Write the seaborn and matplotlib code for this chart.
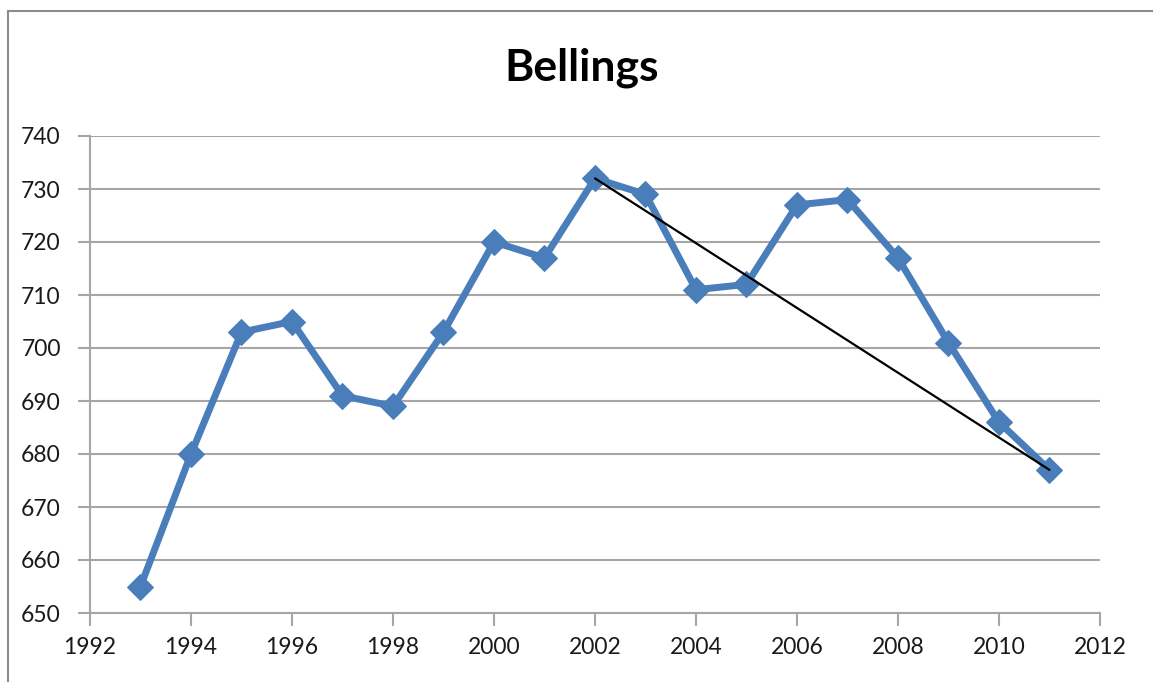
import matplotlib
matplotlib.use("Agg")
import matplotlib.pyplot as plt
import seaborn as sns
from matplotlib.patches import Rectangle

# data
years = [1993, 1994, 1995, 1996, 1997, 1998, 1999, 2000, 2001, 2002,
         2003, 2004, 2005, 2006, 2007, 2008, 2009, 2010, 2011]
values = [655, 680, 703, 705, 691, 689, 703, 720, 717, 732,
          729, 711, 712, 727, 728, 717, 701, 686, 677]
trend_years = [2002, 2011]
trend_values = [732, 677]
x_ticks = list(range(1992, 2013, 2))
y_ticks = list(range(650, 741, 10))

sns.set_style("white")
plt.rcParams['font.family'] = ['Lato', 'DejaVu Sans']

fig = plt.figure(figsize=(11.53, 6.82), dpi=100)
ax = fig.add_axes([90 / 1153, 1 - 613 / 682, 1010 / 1153, 477 / 682])

# outer chart frame
fig.patches.append(Rectangle((8 / 1153, -0.05), 1.2, 1 - 11 / 682 + 0.05,
                             transform=fig.transFigure, fill=False,
                             edgecolor='#8c8c8c', linewidth=1.5))

sns.lineplot(x=years, y=values, ax=ax, color='#4a7ebb', linewidth=5,
             marker='D', markersize=13, markeredgecolor='#4a7ebb', zorder=3)
sns.lineplot(x=trend_years, y=trend_values, ax=ax, color='black',
             linewidth=1.6, zorder=4)

ax.set_xlim(1992, 2012)
ax.set_ylim(650, 740)
ax.set_xticks(x_ticks)
ax.set_yticks(y_ticks)
ax.yaxis.grid(True, color='#a6a6a6', linewidth=1.5)
ax.xaxis.grid(False)
ax.set_axisbelow(True)
for s in ['top', 'right']:
    ax.spines[s].set_visible(False)
for s in ['left', 'bottom']:
    ax.spines[s].set_color('#a6a6a6')
    ax.spines[s].set_linewidth(1.5)
ax.tick_params(axis='both', length=9, width=1.5, color='#a6a6a6',
               labelsize=16.5, labelcolor='#1a1a1a', pad=12, direction='out')
ax.tick_params(axis='x', pad=8)
ax.tick_params(left=True, bottom=True)

fig.text(582 / 1153, 1 - 68 / 682, 'Bellings', ha='center', va='center',
         fontsize=32, fontweight='bold', color='black')

fig.savefig('out.png', dpi=100, facecolor='white')
